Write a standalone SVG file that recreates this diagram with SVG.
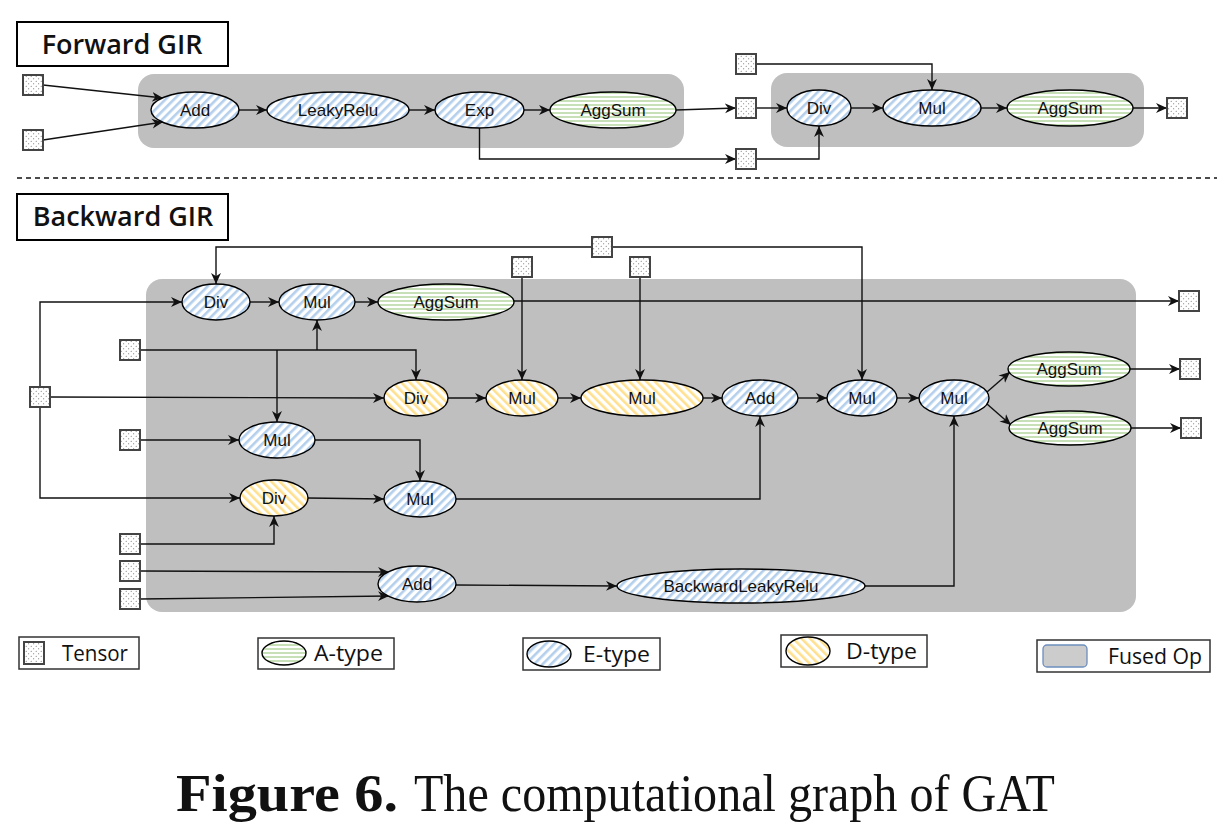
<svg xmlns="http://www.w3.org/2000/svg" width="1232" height="824" viewBox="0 0 1232 824">
<style>
.lbl{font-family:"Liberation Sans",Arial,sans-serif;font-size:17px;fill:#111;text-anchor:middle}
.head{font-family:"Open Sans","Noto Sans",sans-serif;font-weight:600;font-size:27px;fill:#111;text-anchor:middle}
.leg{font-family:"Open Sans","Liberation Sans",sans-serif;font-size:21px;fill:#111}
.e{fill:url(#pE);stroke:#000;stroke-width:1.4}
.a{fill:url(#pA);stroke:#000;stroke-width:1.4}
.d{fill:url(#pD);stroke:#000;stroke-width:1.4}
.t{fill:url(#pT);stroke:#444;stroke-width:2}
.fused{fill:#bfbfbf}
.c{fill:none;stroke:#111;stroke-width:1.4}
.ca{fill:none;stroke:#111;stroke-width:1.4;marker-end:url(#arr)}
.box{fill:#fff;stroke:#000;stroke-width:2}
.lbox{fill:#fff;stroke:#333;stroke-width:1.5}
</style>
<defs>
<pattern id="pE" patternUnits="userSpaceOnUse" width="6" height="6" patternTransform="rotate(45)">
<rect width="6" height="6" fill="#fff"/><rect width="2.6" height="6" fill="#b4cfec"/>
</pattern>
<pattern id="pD" patternUnits="userSpaceOnUse" width="6" height="6" patternTransform="rotate(-45)">
<rect width="6" height="6" fill="#fff"/><rect width="2.6" height="6" fill="#ffe08e"/>
</pattern>
<pattern id="pA" patternUnits="userSpaceOnUse" width="4" height="4">
<rect width="4" height="4" fill="#fff"/><rect width="4" height="2" fill="#c8e0b8"/>
</pattern>
<pattern id="pT" patternUnits="userSpaceOnUse" width="5" height="5">
<rect width="5" height="5" fill="#fff"/><circle cx="1.2" cy="1.2" r="0.5" fill="#555"/><circle cx="3.7" cy="3.7" r="0.5" fill="#555"/>
</pattern>
<marker id="arr" markerUnits="userSpaceOnUse" viewBox="0 0 10 10" refX="10" refY="5" markerWidth="11" markerHeight="11" orient="auto">
<path d="M0,0.5 L10,5 L0,9.5 L3,5 Z" fill="#111"/>
</marker>
</defs>
<rect width="1232" height="824" fill="#fff"/>

<!-- headings -->
<g id="forward-title"><rect class="box" x="17" y="22" width="211" height="44"/><text class="head" x="122" y="54">Forward GIR</text></g>
<g id="backward-title"><rect class="box" x="17" y="194" width="211" height="46"/><text class="head" x="123" y="226">Backward GIR</text></g>
<line x1="17" y1="178" x2="1217" y2="178" stroke="#111" stroke-width="1.3" stroke-dasharray="5,4"/>

<!-- fused op regions -->
<g id="fused-fwd-1"><rect class="fused" x="138" y="74" width="546" height="74" rx="16"/></g>
<g id="fused-fwd-2"><rect class="fused" x="771" y="73" width="373" height="74" rx="16"/></g>
<g id="fused-bwd"><rect class="fused" x="146" y="279" width="990" height="333" rx="16"/></g>

<!-- connectors -->
<g id="connectors">
<!-- forward -->
<path class="ca" d="M43,85 L163,98"/>
<path class="ca" d="M43,140 L163,122"/>
<path class="ca" d="M239,110 L267,110"/>
<path class="ca" d="M409,110 L435,110"/>
<path class="ca" d="M524,110 L550,110"/>
<path class="ca" d="M676,110 L736,108"/>
<path class="ca" d="M756,108 L787,108"/>
<path class="ca" d="M479.5,128 L479.5,159 L736,159"/>
<path class="ca" d="M756,159 L819,159 L819,126"/>
<path class="ca" d="M756,64 L932,64 L932,90"/>
<path class="ca" d="M851,108 L883,108"/>
<path class="ca" d="M981,108 L1007,108"/>
<path class="ca" d="M1133,108 L1167,108"/>
<!-- backward -->
<path class="ca" d="M592,247 L216,247 L216,284"/>
<path class="ca" d="M612,247 L862,247 L862,380"/>
<path class="ca" d="M522,277 L522,380"/>
<path class="ca" d="M640,277 L640,380"/>
<path class="ca" d="M40,387 L40,302 L182,302"/>
<path class="ca" d="M50,397 L384,398"/>
<path class="ca" d="M40,407 L40,498 L240,498"/>
<path class="ca" d="M140,350 L416,350 L416,380"/>
<path class="ca" d="M317,350 L317,320"/>
<path class="ca" d="M277,350 L277,422"/>
<path class="ca" d="M250,302 L279,302"/>
<path class="ca" d="M355,302 L378,302"/>
<path class="ca" d="M514,301 L1179,301"/>
<path class="ca" d="M448,398 L486,398"/>
<path class="ca" d="M558,398 L581,398"/>
<path class="ca" d="M703,398 L722,398"/>
<path class="ca" d="M798,398 L827,398"/>
<path class="ca" d="M897,398 L919,398"/>
<path class="ca" d="M987,392 L1010,372"/>
<path class="ca" d="M987,404 L1011,425"/>
<path class="ca" d="M1130,369 L1180,369"/>
<path class="ca" d="M1131,428 L1181,428"/>
<path class="ca" d="M140,440 L239,440"/>
<path class="ca" d="M315,440 L420,440 L420,481"/>
<path class="ca" d="M308,498 L384,499"/>
<path class="ca" d="M456,499 L760,499 L760,416"/>
<path class="ca" d="M140,544 L274,544 L274,516"/>
<path class="ca" d="M140,571 L389,572"/>
<path class="ca" d="M140,599 L389,596"/>
<path class="ca" d="M456,585 L617,586"/>
<path class="ca" d="M865,586 L954,586 L954,416"/>
</g>

<!-- forward nodes -->
<g id="f-add"><ellipse class="e" cx="195" cy="110" rx="44" ry="18"/><text class="lbl" x="195" y="116">Add</text></g>
<g id="f-leakyrelu"><ellipse class="e" cx="338" cy="110" rx="71" ry="18"/><text class="lbl" x="338" y="116">LeakyRelu</text></g>
<g id="f-exp"><ellipse class="e" cx="479.5" cy="110" rx="44.5" ry="18"/><text class="lbl" x="479.5" y="116">Exp</text></g>
<g id="f-aggsum1"><ellipse class="a" cx="613" cy="110" rx="63" ry="18"/><text class="lbl" x="613" y="116">AggSum</text></g>
<g id="f-div"><ellipse class="e" cx="819" cy="108" rx="32" ry="18"/><text class="lbl" x="819" y="114">Div</text></g>
<g id="f-mul"><ellipse class="e" cx="932" cy="108" rx="49" ry="18"/><text class="lbl" x="932" y="114">Mul</text></g>
<g id="f-aggsum2"><ellipse class="a" cx="1070" cy="108" rx="63" ry="18"/><text class="lbl" x="1070" y="114">AggSum</text></g>
<g id="f-t-in1"><rect class="t" x="23" y="75" width="20" height="20"/></g>
<g id="f-t-in2"><rect class="t" x="23" y="130" width="20" height="20"/></g>
<g id="f-t-a"><rect class="t" x="736" y="54" width="20" height="20"/></g>
<g id="f-t-b"><rect class="t" x="736" y="98" width="20" height="20"/></g>
<g id="f-t-c"><rect class="t" x="736" y="149" width="20" height="20"/></g>
<g id="f-t-out"><rect class="t" x="1167" y="98" width="20" height="20"/></g>

<!-- backward nodes -->
<g id="b-div1"><ellipse class="e" cx="216" cy="302" rx="34" ry="18"/><text class="lbl" x="216" y="308">Div</text></g>
<g id="b-mul1"><ellipse class="e" cx="317" cy="302" rx="38" ry="18"/><text class="lbl" x="317" y="308">Mul</text></g>
<g id="b-aggsum1"><ellipse class="a" cx="446" cy="302" rx="68" ry="18"/><text class="lbl" x="446" y="308">AggSum</text></g>
<g id="b-divd1"><ellipse class="d" cx="416" cy="398" rx="32" ry="18"/><text class="lbl" x="416" y="404">Div</text></g>
<g id="b-muld1"><ellipse class="d" cx="522" cy="398" rx="36" ry="18"/><text class="lbl" x="522" y="404">Mul</text></g>
<g id="b-muld2"><ellipse class="d" cx="642" cy="398" rx="61" ry="18"/><text class="lbl" x="642" y="404">Mul</text></g>
<g id="b-add1"><ellipse class="e" cx="760" cy="398" rx="38" ry="18"/><text class="lbl" x="760" y="404">Add</text></g>
<g id="b-mul2"><ellipse class="e" cx="862" cy="398" rx="35" ry="18"/><text class="lbl" x="862" y="404">Mul</text></g>
<g id="b-mul3"><ellipse class="e" cx="954" cy="398" rx="35" ry="18"/><text class="lbl" x="954" y="404">Mul</text></g>
<g id="b-aggsum2"><ellipse class="a" cx="1069" cy="369" rx="61" ry="17"/><text class="lbl" x="1069" y="375">AggSum</text></g>
<g id="b-aggsum3"><ellipse class="a" cx="1070" cy="428" rx="61" ry="17"/><text class="lbl" x="1070" y="434">AggSum</text></g>
<g id="b-mul4"><ellipse class="e" cx="277" cy="440" rx="38" ry="18"/><text class="lbl" x="277" y="446">Mul</text></g>
<g id="b-divd2"><ellipse class="d" cx="274" cy="498" rx="34" ry="18"/><text class="lbl" x="274" y="504">Div</text></g>
<g id="b-mul5"><ellipse class="e" cx="420" cy="499" rx="36" ry="18"/><text class="lbl" x="420" y="505">Mul</text></g>
<g id="b-add2"><ellipse class="e" cx="417" cy="584" rx="39" ry="18"/><text class="lbl" x="417" y="590">Add</text></g>
<g id="b-blr"><ellipse class="e" cx="741" cy="586" rx="124" ry="17"/><text class="lbl" x="741" y="592" font-size="16">BackwardLeakyRelu</text></g>
<g id="b-t1"><rect class="t" x="592" y="237" width="20" height="20"/></g>
<g id="b-t2"><rect class="t" x="512" y="257" width="20" height="20"/></g>
<g id="b-t3"><rect class="t" x="630" y="257" width="20" height="20"/></g>
<g id="b-t4"><rect class="t" x="30" y="387" width="20" height="20"/></g>
<g id="b-t5"><rect class="t" x="120" y="340" width="20" height="20"/></g>
<g id="b-t6"><rect class="t" x="120" y="430" width="20" height="20"/></g>
<g id="b-t7"><rect class="t" x="120" y="534" width="20" height="20"/></g>
<g id="b-t8"><rect class="t" x="120" y="561" width="20" height="20"/></g>
<g id="b-t9"><rect class="t" x="120" y="589" width="20" height="20"/></g>
<g id="b-t-out1"><rect class="t" x="1179" y="291" width="20" height="20"/></g>
<g id="b-t-out2"><rect class="t" x="1180" y="359" width="20" height="20"/></g>
<g id="b-t-out3"><rect class="t" x="1181" y="418" width="20" height="20"/></g>

<!-- legend -->
<g id="legend-tensor"><rect class="lbox" x="19" y="637" width="120" height="32"/><rect class="t" x="24" y="642" width="20" height="22"/><text class="leg" x="62" y="661" textLength="66" lengthAdjust="spacingAndGlyphs">Tensor</text></g>
<g id="legend-a"><rect class="lbox" x="258" y="638" width="136" height="31"/><ellipse class="a" cx="284" cy="653" rx="22" ry="12"/><text class="leg" x="314" y="661" textLength="69" lengthAdjust="spacingAndGlyphs">A-type</text></g>
<g id="legend-e"><rect class="lbox" x="523" y="638" width="137" height="32"/><ellipse class="e" cx="549" cy="654" rx="22" ry="13"/><text class="leg" x="583" y="662" textLength="67" lengthAdjust="spacingAndGlyphs">E-type</text></g>
<g id="legend-d"><rect class="lbox" x="781" y="635" width="146" height="32"/><ellipse class="d" cx="808" cy="651" rx="22" ry="14"/><text class="leg" x="846" y="659" textLength="71" lengthAdjust="spacingAndGlyphs">D-type</text></g>
<g id="legend-fused"><rect class="lbox" x="1037" y="640" width="173" height="32"/><rect x="1043" y="645" width="44" height="22" rx="4" fill="#cccccc" stroke="#6c8ebf" stroke-width="1.3"/><text class="leg" x="1108" y="664" textLength="94" lengthAdjust="spacingAndGlyphs">Fused Op</text></g>

<!-- caption -->
<text x="176" y="811" font-family="'Liberation Serif',serif" font-size="52" font-weight="bold" fill="#111" textLength="222" lengthAdjust="spacingAndGlyphs">Figure 6.</text>
<text x="414" y="811" font-family="'Liberation Serif',serif" font-size="52" fill="#111" textLength="641" lengthAdjust="spacingAndGlyphs">The computational graph of GAT</text>
</svg>
